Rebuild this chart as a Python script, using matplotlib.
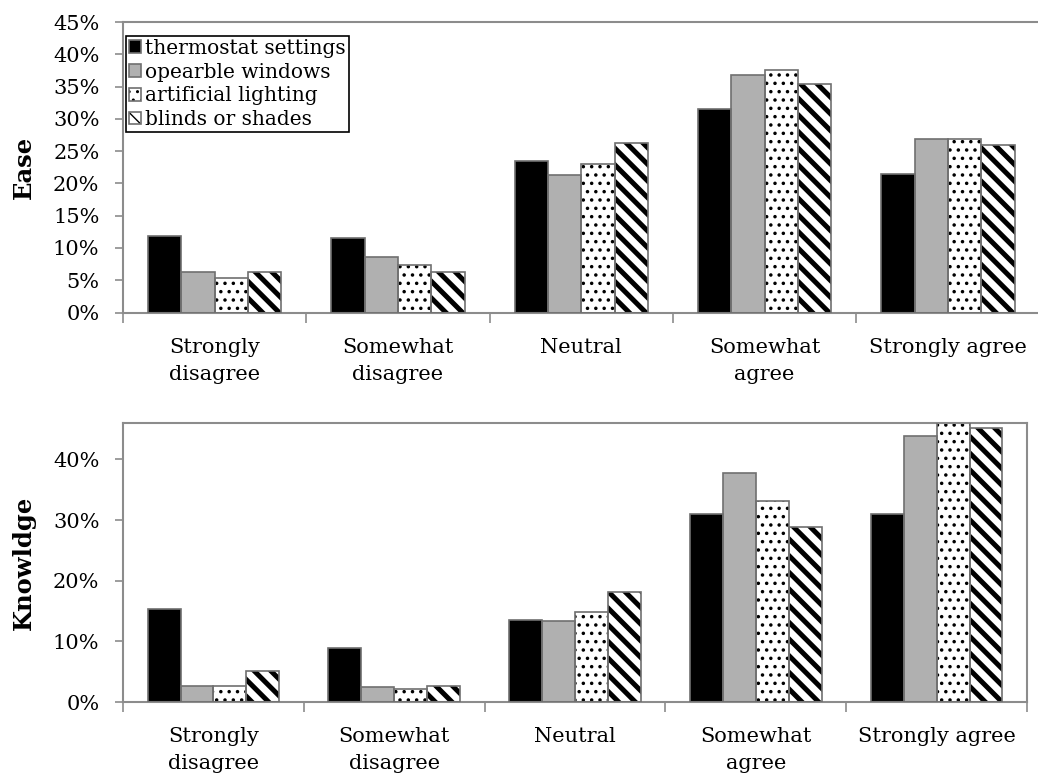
import matplotlib
matplotlib.use('Agg')
import matplotlib.pyplot as plt
import numpy as np
from matplotlib.ticker import FuncFormatter, MultipleLocator, FixedLocator
from matplotlib.legend_handler import HandlerTuple

categories = ['Strongly\ndisagree', 'Somewhat\ndisagree', 'Neutral', 'Somewhat\nagree', 'Strongly agree']
series = ['thermostat settings', 'opearble windows', 'artificial lighting', 'blinds or shades']

# percent values
ease_thermostat = [11.8, 11.6, 23.4, 31.6, 21.5]
ease_windows = [6.3, 8.6, 21.3, 36.8, 26.9]
ease_lighting = [5.3, 7.4, 23.0, 37.5, 26.9]
ease_blinds = [6.3, 6.3, 26.2, 35.4, 25.9]

know_thermostat = [15.4, 8.9, 13.6, 31.0, 31.0]
know_windows = [2.7, 2.5, 13.3, 37.7, 43.8]
know_lighting = [2.6, 2.1, 14.9, 33.1, 47.0]
know_blinds = [5.1, 2.7, 18.1, 28.8, 45.2]

ease = [ease_thermostat, ease_windows, ease_lighting, ease_blinds]
know = [know_thermostat, know_windows, know_lighting, know_blinds]

facecolors = ['black', '#b0b0b0', 'white', 'white']
hatches = [None, None, '..', '\\\\']
hatch_lw = [1.0, 1.0, 1.3, 3.6]
edge = '#707070'
spine_col = '#8c8c8c'

plt.rcParams['font.family'] = ['DejaVu Serif']
plt.rcParams['font.size'] = 15

fig = plt.figure(figsize=(10.38, 7.73), dpi=100)
ax1 = fig.add_axes([0.1185, 0.5957, 0.8831, 0.3758])
ax2 = fig.add_axes([0.1185, 0.0918, 0.8710, 0.3610])

x = np.arange(len(categories))
w = 1 / 5.5


def draw(ax, data, ymax, step, ylabel, top_box):
    handles = []
    for i, vals in enumerate(data):
        pos = x + (i - 1.5) * w
        v = np.array(vals) / 100
        with plt.rc_context({'hatch.linewidth': hatch_lw[i]}):
            b1 = ax.bar(pos, v, w, color=facecolors[i], edgecolor='black',
                        linewidth=0, hatch=hatches[i], zorder=2)
        b2 = ax.bar(pos, v, w, fill=False, edgecolor=edge, linewidth=1.2, zorder=3)
        handles.append((b1[0], b2[0]))
    ax.set_xlim(-0.5, len(categories) - 0.5)
    ax.set_ylim(0, ymax)
    ax.yaxis.set_major_locator(MultipleLocator(step))
    ax.yaxis.set_major_formatter(FuncFormatter(lambda y, p: f'{y * 100:.0f}%'))
    ax.xaxis.set_major_locator(FixedLocator(np.arange(len(categories) + 1) - 0.5))
    ax.xaxis.set_major_formatter(FuncFormatter(lambda v, p: ''))
    ax.set_xticks(x, minor=True)
    ax.set_xticklabels(categories, minor=True, linespacing=1.55)
    ax.tick_params(axis='x', which='minor', length=0, pad=18)
    ax.tick_params(axis='x', which='major', length=7, color=spine_col, width=1.2, direction='out')
    ax.tick_params(axis='y', length=6, color=spine_col, width=1.2, direction='out', pad=11)
    for s in ['left', 'bottom', 'top', 'right']:
        ax.spines[s].set_color(spine_col)
        ax.spines[s].set_linewidth(1.5)
    if not top_box:
        ax.spines['right'].set_visible(False)
    ax.set_ylabel(ylabel, fontweight='bold', fontsize=17.5, labelpad=12)
    return handles


h = draw(ax1, ease, 0.45, 0.05, 'Ease', False)
draw(ax2, know, 0.46, 0.10, 'Knowldge', True)
ax2.set_yticks(np.arange(0, 0.41, 0.1))

leg = ax1.legend(h, series, loc='upper left', bbox_to_anchor=(0.003, 0.953),
                 borderaxespad=0, handler_map={tuple: HandlerTuple(ndivide=1)},
                 handlelength=0.6, handleheight=0.6, handletextpad=0.2,
                 labelspacing=0.24, borderpad=0.15, fancybox=False, framealpha=1,
                 fontsize=14.5)
leg.get_frame().set_edgecolor('black')
leg.get_frame().set_linewidth(1.2)

fig.savefig('out.png', dpi=100)
